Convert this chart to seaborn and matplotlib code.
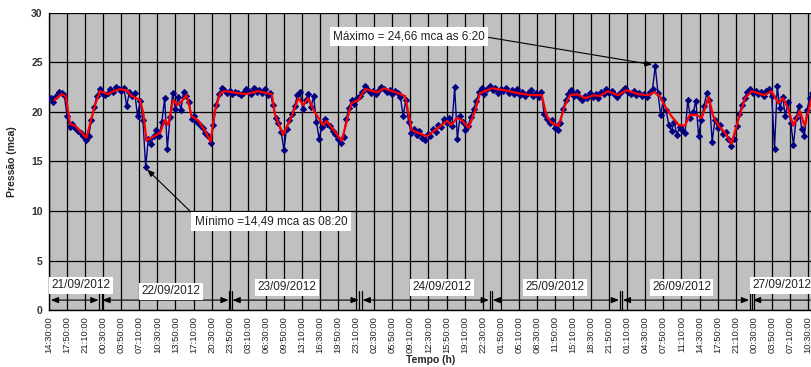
import numpy as np
import pandas as pd
import matplotlib
matplotlib.use("Agg")
import matplotlib.pyplot as plt
import seaborn as sns

# ---------------- data ----------------
tick_labels = ["14:30:00", "17:50:00", "21:10:00", "00:30:00", "03:50:00", "07:10:00",
               "10:30:00", "13:50:00", "17:10:00", "20:30:00", "23:50:00", "03:10:00",
               "06:30:00", "09:50:00", "13:10:00", "16:30:00", "19:50:00", "23:10:00",
               "02:30:00", "05:50:00", "09:10:00", "12:30:00", "15:50:00", "19:10:00",
               "22:30:00", "01:50:00", "05:10:00", "08:30:00", "11:50:00", "15:10:00",
               "18:30:00", "21:50:00", "01:10:00", "04:30:00", "07:50:00", "11:10:00",
               "14:30:00", "17:50:00", "21:10:00", "00:30:00", "03:50:00", "07:10:00",
               "10:30:00"]
tick_step_hours = 200 / 60

day_labels = ["21/09/2012", "22/09/2012", "23/09/2012", "24/09/2012",
              "25/09/2012", "26/09/2012", "27/09/2012"]
day_label_hours = [5.9, 22.5, 43.9, 72.5, 93.3, 116.7, 135.2]
day_label_levels = [2.5, 1.9, 2.3, 2.3, 2.3, 2.3, 2.5]
midnight_hours = [9.5, 33.5, 57.5, 81.5, 105.5, 129.5]

# measured pressure (mca), every 30 min starting 21/09 14:20 (hours from 14:30)
blue_start_hour = -1 / 6
blue_step_hours = 0.5
blue_values = [
    21.4, 21.4, 21.0, 21.6, 22.0, 21.9, 21.7, 19.6, 18.5, 18.8,
    18.4, 18.1, 17.9, 17.6, 17.2, 17.6, 19.2, 20.5, 21.6, 22.3,
    21.9, 21.7, 21.9, 22.3, 22.0, 22.5, 22.3, 22.1, 22.4, 20.6,
    22.0, 21.6, 21.9, 19.6, 21.1, 19.2, 14.49, 17.3, 16.8, 17.6,
    18.2, 17.6, 19.0, 21.4, 16.3, 19.5, 21.9, 20.3, 21.5, 20.2,
    22.0, 21.6, 21.0, 19.3, 19.6, 19.0, 18.7, 18.4, 17.9, 17.6,
    16.9, 18.7, 20.7, 21.8, 22.4, 22.2, 21.9, 22.1, 21.8, 22.0,
    21.9, 21.7, 21.9, 22.3, 22.1, 21.8, 22.4, 22.0, 22.2, 21.9,
    22.3, 21.7, 21.9, 20.7, 19.4, 18.9, 18.0, 16.2, 18.3, 19.2,
    19.8, 20.6, 21.7, 22.0, 20.3, 21.2, 21.8, 20.5, 21.6, 19.0,
    17.3, 18.5, 19.3, 18.8, 18.6, 18.1, 17.8, 17.3, 16.9, 17.5,
    19.3, 20.4, 21.2, 20.8, 21.4, 21.6, 22.0, 22.6, 22.2, 21.9,
    22.1, 21.8, 22.2, 22.5, 22.3, 22.0, 22.2, 21.8, 22.1, 21.9,
    21.5, 19.6, 21.2, 19.0, 17.9, 18.3, 17.7, 18.1, 17.4, 17.2,
    17.8, 17.6, 18.3, 18.0, 18.7, 18.5, 19.3, 18.9, 19.4, 18.6,
    22.5, 17.3, 19.6, 19.0, 18.2, 18.6, 19.5, 20.3, 21.1, 22.0,
    22.4, 21.8, 22.3, 22.6, 22.2, 22.4, 21.9, 22.3, 22.1, 22.4,
    21.9, 22.2, 21.8, 22.3, 21.7, 22.0, 21.6, 21.9, 22.2, 21.6,
    21.9, 21.5, 22.0, 19.8, 19.3, 18.9, 19.2, 18.4, 18.2, 18.9,
    20.3, 21.2, 21.8, 22.2, 21.6, 22.0, 21.5, 21.2, 21.6, 21.4,
    21.9, 21.5, 21.8, 21.4, 22.0, 21.8, 22.3, 21.9, 22.1, 21.7,
    21.5, 21.9, 22.2, 22.4, 22.0, 21.8, 22.1, 21.7, 21.9, 21.6,
    21.8, 21.5, 22.0, 22.3, 24.66, 21.9, 19.7, 21.3, 20.2, 18.7,
    18.1, 19.0, 17.7, 18.5, 18.2, 17.9, 21.2, 19.4, 20.0, 21.1,
    17.6, 19.2, 20.6, 21.9, 21.2, 17.0, 19.2, 18.4, 18.7, 17.8,
    18.0, 17.3, 16.6, 17.3, 18.6, 19.8, 20.7, 21.4, 22.0, 22.3,
    21.9, 22.1, 21.8, 22.0, 21.6, 22.1, 22.3, 21.6, 16.3, 22.6,
    20.4, 21.5, 19.6, 21.0, 18.9, 16.7, 19.4, 20.6, 18.3, 17.6,
    20.2, 21.4, 21.9, 21.2,
]

# smoothed pressure (red line)
red_hours = [1.0, 2.3, 3.1, 3.9, 4.8, 6.9, 8.5, 9.4, 10.9, 11.9, 13.1, 14.3, 15.3,
             16.8, 17.4, 18.0, 18.9, 20.5, 21.4, 22.0, 22.9, 23.7, 24.5, 25.4, 26.3,
             27.6, 28.8, 29.8, 30.6, 31.6, 32.5, 36.2, 38.6, 41.1, 41.7, 43.2, 44.8,
             46.0, 46.9, 47.8, 48.8, 49.7, 50.6, 51.2, 54.0, 55.8, 57.1, 58.3, 60.7,
             61.7, 64.4, 65.7, 66.9, 68.1, 69.7, 71.8, 73.4, 74.3, 75.2, 76.1, 77.4,
             78.6, 79.5, 80.4, 81.7, 84.1, 86.6, 89.0, 90.9, 91.8, 92.7, 94.0, 95.2,
             96.1, 97.4, 98.8, 100.7, 101.6, 103.1, 105.0, 106.5, 108.7, 110.5, 111.7,
             112.7, 113.6, 114.8, 116.1, 117.3, 118.2, 119.4, 120.4, 121.7, 122.5,
             123.4, 124.7, 125.9, 127.1, 128.4, 129.6, 132.0, 133.3, 134.5, 135.4,
             136.3, 137.3, 138.5, 139.4, 140.7]
red_values = [21.2, 21.8, 21.6, 18.8, 18.6, 17.4, 20.7, 22.1, 21.8, 22.1, 22.3, 22.2, 21.6,
              21.2, 19.9, 17.1, 17.4, 17.9, 19.2, 18.7, 21.2, 20.7, 21.1, 21.7, 19.6,
              19.1, 18.1, 17.0, 20.1, 21.9, 22.1, 21.8, 22.1, 21.8, 19.7, 17.7, 19.6,
              21.4, 20.7, 21.4, 20.2, 19.4, 18.7, 19.1, 17.1, 20.9, 21.2, 22.3, 22.0,
              22.4, 21.9, 21.6, 18.2, 17.9, 17.55, 18.4, 19.1, 18.7, 19.4, 19.2, 18.4,
              20.1, 21.9, 22.1, 22.4, 22.2, 21.9, 21.7, 21.7, 19.6, 18.9, 18.6, 20.7,
              21.7, 21.8, 21.4, 21.7, 21.6, 22.1, 21.7, 22.2, 21.8, 21.7, 22.0,
              21.6, 20.6, 19.6, 18.7, 18.6, 19.7, 19.7, 19.4, 21.5, 19.6,
              18.7, 17.9, 16.8, 19.1, 21.4, 22.1, 21.7, 22.1, 20.9, 21.4,
              20.4, 18.6, 20.1, 18.6, 21.4]

max_hour, max_value = 111.83, 24.66
min_hour, min_value = 17.83, 14.49
max_text = "Máximo = 24,66 mca as 6:20"
min_text = "Mínimo =14,49 mca as 08:20"

# ---------------- figure ----------------
sns.set_style("white")
plt.rcParams["font.family"] = ["Liberation Sans", "DejaVu Sans"]

fig = plt.figure(figsize=(8.12, 3.67), dpi=100)
ax = fig.add_axes([0.0603, 0.1553, 0.9397, 0.8093])
ax.set_facecolor("#C0C0C0")

blue_df = pd.DataFrame({
    "hora": blue_start_hour + blue_step_hours * np.arange(len(blue_values)),
    "pressao": blue_values,
})
red_df = pd.DataFrame({"hora": red_hours, "pressao": red_values})

sns.lineplot(data=blue_df, x="hora", y="pressao", ax=ax, color="#000080",
             linewidth=1.0, marker="D", markersize=3.2, markeredgecolor="#000080",
             markeredgewidth=0.6, zorder=3)
sns.lineplot(data=red_df, x="hora", y="pressao", ax=ax, color="#FF0000",
             linewidth=1.6, zorder=4)

xmax = 140.75
ax.set_xlim(0, xmax)
ax.set_ylim(0, 30)

ticks = tick_step_hours * np.arange(len(tick_labels))
ax.set_xticks(ticks)
ax.set_xticklabels(tick_labels, rotation=90, fontsize=6.8, color="#222222")
ax.set_yticks(np.arange(0, 31, 5))
ax.set_yticklabels([str(v) for v in range(0, 31, 5)], fontsize=7.5,
                   fontweight="bold", color="#333333")
ax.tick_params(axis="both", length=3, width=0.8, color="black", pad=1.5)
ax.grid(True, color="black", linewidth=0.9)
ax.set_axisbelow(True)
for s in ["top", "right"]:
    ax.spines[s].set_visible(False)
for s in ["left", "bottom"]:
    ax.spines[s].set_color("black")
    ax.spines[s].set_linewidth(1.0)

ax.set_xlabel("Tempo (h)", fontsize=7.5, fontweight="bold", labelpad=1)
ax.set_ylabel("Pressão (mca)", fontsize=7.5, fontweight="bold", labelpad=10)

# day brackets
bounds = [0.0] + midnight_hours + [xmax]
arrow_level = 1.0
for i in range(len(bounds) - 1):
    a, b = bounds[i], bounds[i + 1]
    if i == len(bounds) - 2:
        style = "<|-"
    else:
        style = "<|-|>"
    ax.annotate("", xy=(b - 0.35, arrow_level), xytext=(a + 0.35, arrow_level),
                arrowprops=dict(arrowstyle=style + ",head_length=0.45,head_width=0.18",
                                color="black", lw=0.8, shrinkA=0, shrinkB=0),
                zorder=6)
for m in midnight_hours:
    ax.plot([m - 0.22, m - 0.22], [0, 1.9], color="black", lw=0.9, zorder=6)
    ax.plot([m + 0.22, m + 0.22], [0, 1.9], color="black", lw=0.9, zorder=6)

for lab, h, lev in zip(day_labels, day_label_hours, day_label_levels):
    ax.text(h, lev, lab, ha="center", va="center", fontsize=8.5, color="#222222",
            bbox=dict(boxstyle="square,pad=0.2", facecolor="white", edgecolor="none"),
            zorder=7)

# max / min annotations
ax.annotate(max_text, xy=(max_hour - 0.3, max_value + 0.1), xytext=(66.4, 27.6),
            ha="center", va="center", fontsize=8.5, color="#222222",
            bbox=dict(boxstyle="square,pad=0.3", facecolor="white", edgecolor="none"),
            arrowprops=dict(arrowstyle="-|>,head_length=0.5,head_width=0.2",
                            color="black", lw=0.8, shrinkA=0, shrinkB=1,
                            relpos=(1.0, 0.5)),
            zorder=8)
ax.annotate(min_text, xy=(min_hour + 0.1, min_value - 0.2), xytext=(41.0, 8.9),
            ha="center", va="center", fontsize=8.5, color="#222222",
            bbox=dict(boxstyle="square,pad=0.3", facecolor="white", edgecolor="none"),
            arrowprops=dict(arrowstyle="-|>,head_length=0.5,head_width=0.2",
                            color="black", lw=0.8, shrinkA=0, shrinkB=1,
                            relpos=(0.0, 1.0)),
            zorder=8)

fig.savefig("out.png", dpi=100)
